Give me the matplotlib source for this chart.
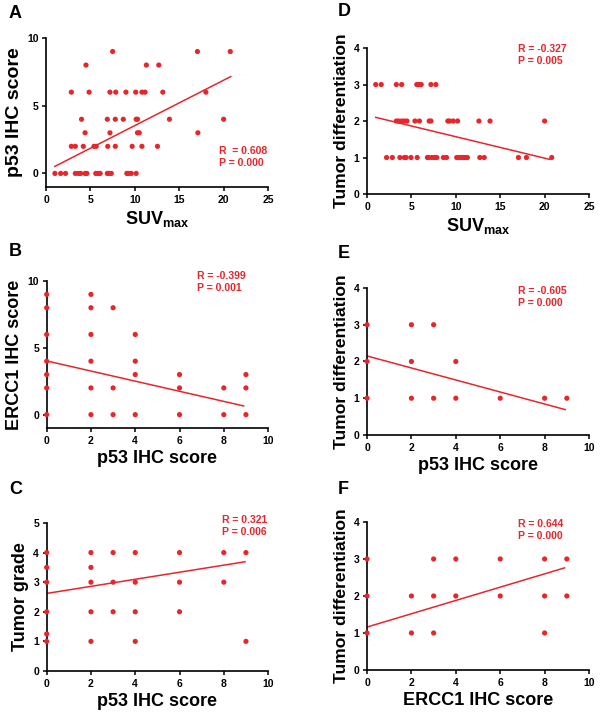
import numpy as np
import matplotlib
matplotlib.use('Agg')
import matplotlib.pyplot as plt

plt.rcParams['font.family'] = ['Liberation Sans', 'DejaVu Sans']
plt.rcParams['font.weight'] = 'bold'
plt.rcParams['mathtext.fontset'] = 'custom'
plt.rcParams['mathtext.rm'] = 'Liberation Sans:bold'
plt.rcParams['mathtext.bf'] = 'Liberation Sans:bold'

RED = '#e8252b'

#--------------------------------------
# data
#--------------------------------------
# A: SUVmax vs p53 IHC score
a_x = [1.0, 1.65, 2.2, 3.3, 3.65, 3.9, 4.4, 4.6, 5.6, 5.85, 6.1, 6.9, 7.1, 7.35, 9.1, 9.3, 9.6, 10.15,
       2.85, 3.3, 4.2, 5.4, 5.65, 6.95, 7.8, 9.7, 10.8, 12.55,
       4.4, 7.2, 10.3, 10.5, 17.1,
       4.0, 6.9, 7.8, 8.7, 10.15, 10.3, 13.9, 20.0,
       2.85, 4.85, 7.2, 7.85, 9.0, 10.1, 10.8, 11.15, 13.15, 18.0,
       4.5, 11.3, 12.7,
       7.5, 17.05, 20.75]
a_y = [0] * 18 + [2] * 10 + [3] * 5 + [4] * 8 + [6] * 10 + [8] * 3 + [9] * 3
a_fit_x = [1.0, 20.8]
a_fit_y = [0.52, 7.15]

# D: SUVmax vs tumor differentiation
d_x = [0.98, 1.6, 3.3, 3.9, 5.6, 5.8, 6.1, 7.2, 7.75,
       3.3, 3.55, 3.9, 4.2, 4.5, 5.4, 5.9, 7.0, 7.2, 9.1, 9.3, 9.7, 10.2, 12.6, 13.85, 20.0,
       2.2, 2.85, 3.7, 4.2, 4.4, 4.95, 5.65, 6.8, 6.95, 7.3, 7.6, 7.85, 8.6, 8.95, 10.1, 10.4,
       10.65, 10.85, 11.05, 11.3, 12.7, 13.2, 17.05, 17.95, 20.8]
d_y = [3] * 9 + [2] * 16 + [1] * 25
d_fit_x = [0.98, 20.55]
d_fit_y = [2.1, 0.95]

# B: p53 vs ERCC1
b_x = [0, 0, 0, 0, 0, 0, 0, 2, 2, 2, 2, 2, 2, 3, 3, 3, 4, 4, 4, 4, 6, 6, 6, 8, 8, 9, 9, 9]
b_y = [9, 8, 6, 4, 3, 2, 0, 9, 8, 6, 4, 2, 0, 8, 2, 0, 6, 4, 3, 0, 3, 2, 0, 2, 0, 3, 2, 0]
b_fit_x = [0, 8.9]
b_fit_y = [4.02, 0.65]

# E: p53 vs tumor differentiation
e_x = [0, 0, 0, 2, 2, 2, 3, 3, 4, 4, 6, 8, 9]
e_y = [3, 2, 1, 3, 2, 1, 3, 1, 2, 1, 1, 1, 1]
e_fit_x = [0, 8.93]
e_fit_y = [2.15, 0.69]

# C: p53 vs tumor grade
c_x = [0, 0, 0, 0, 0, 0, 2, 2, 2, 2, 2, 3, 3, 3, 4, 4, 4, 4, 6, 6, 6, 8, 8, 9, 9]
c_y = [4, 3.5, 3, 2, 1.25, 1, 4, 3.5, 3, 2, 1, 4, 3, 2, 4, 3, 2, 1, 4, 3, 2, 4, 3, 4, 1]
c_fit_x = [0, 8.96]
c_fit_y = [2.62, 3.69]

# F: ERCC1 vs tumor differentiation
f_x = [0, 0, 0, 2, 2, 3, 3, 3, 4, 4, 6, 6, 8, 8, 8, 9, 9]
f_y = [3, 2, 1, 2, 1, 3, 2, 1, 3, 2, 3, 2, 3, 2, 1, 3, 2]
f_fit_x = [0, 8.9]
f_fit_y = [1.16, 2.76]

stats = {'A': 'R  = 0.608\nP = 0.000', 'D': 'R = -0.327\nP = 0.005',
         'B': 'R = -0.399\nP = 0.001', 'E': 'R = -0.605\nP = 0.000',
         'C': 'R = 0.321\nP = 0.006', 'F': 'R = 0.644\nP = 0.000'}

suv_label = r'$\mathbf{SUV_{max}}$'

fig = plt.figure(figsize=(6, 7.18), dpi=100, facecolor='w')

# letter, axes rect, data, limits, labels, ylabel size, stats pos, letter pos (pixels)
panels = [
    ('A', [0.0767, 0.7396, 0.37, 0.2075], a_x, a_y, a_fit_x, a_fit_y, (0, 25), 5, (-1, 10), [0, 5, 10],
     suv_label, 'p53 IHC score', 14, (0.78, 0.20, 'left'), (9, 13)),
    ('D', [0.6117, 0.7298, 0.37, 0.2033], d_x, d_y, d_fit_x, d_fit_y, (0, 25), 5, (0, 4), [0, 1, 2, 3, 4],
     suv_label, 'Tumor differentiation', 12.6, (0.68, 0.95, 'left'), (338, 12)),
    ('B', [0.0778, 0.4039, 0.369, 0.2047], b_x, b_y, b_fit_x, b_fit_y, (0, 10), 2, (-1, 10), [0, 5, 10],
     'p53 IHC score', 'ERCC1 IHC score', 13, (0.79, 0.995, 'center'), (9, 252)),
    ('E', [0.6117, 0.3942, 0.37, 0.2047], e_x, e_y, e_fit_x, e_fit_y, (0, 10), 2, (0, 4), [0, 1, 2, 3, 4],
     'p53 IHC score', 'Tumor differentiation', 12.6, (0.68, 0.94, 'left'), (338, 253)),
    ('C', [0.0778, 0.0655, 0.369, 0.2061], c_x, c_y, c_fit_x, c_fit_y, (0, 10), 2, (0, 5), [0, 1, 2, 3, 4, 5],
     'p53 IHC score', 'Tumor grade', 13, (0.79, 0.983, 'left'), (9, 489)),
    ('F', [0.6117, 0.0669, 0.37, 0.2061], f_x, f_y, f_fit_x, f_fit_y, (0, 10), 2, (0, 4), [0, 1, 2, 3, 4],
     'ERCC1 IHC score', 'Tumor differentiation', 12.6, (0.68, 0.946, 'left'), (338, 489)),
]

for (letter, rect, x, y, fx, fy, xlim, xstep, ylim, yticks, xlab, ylab, ylsize, tpos, lpos) in panels:
    ax = fig.add_axes(rect)
    ax.scatter(x, y, s=14, color=RED, edgecolors='none', zorder=3, clip_on=False)
    ax.plot(fx, fy, color=RED, linewidth=1.1, zorder=2)
    ax.set_xlim(xlim)
    ax.set_ylim(ylim)
    ax.set_xticks(np.arange(xlim[0], xlim[1] + 0.1, xstep))
    ax.set_yticks(yticks)
    for side in ['top', 'right']:
        ax.spines[side].set_visible(False)
    for side in ['left', 'bottom']:
        ax.spines[side].set_linewidth(1.2)
    ax.tick_params(direction='out', length=3, width=1.1, labelsize=7.5, pad=2.5)
    ax.set_xlabel(xlab, fontsize=13, fontweight='bold', labelpad=3)
    ax.set_ylabel(ylab, fontsize=ylsize, fontweight='bold', labelpad=3)
    ax.text(tpos[0], tpos[1], stats[letter], transform=ax.transAxes, color=RED,
            fontsize=7.5, fontweight='bold', ha=tpos[2], va='center', linespacing=1.25,
            multialignment='left')
    # panel letter
    fig.text(lpos[0] / 600, 1 - lpos[1] / 718, letter, fontsize=13, fontweight='bold',
             ha='left', va='center')

plt.savefig('out.png', dpi=100, facecolor='w')
